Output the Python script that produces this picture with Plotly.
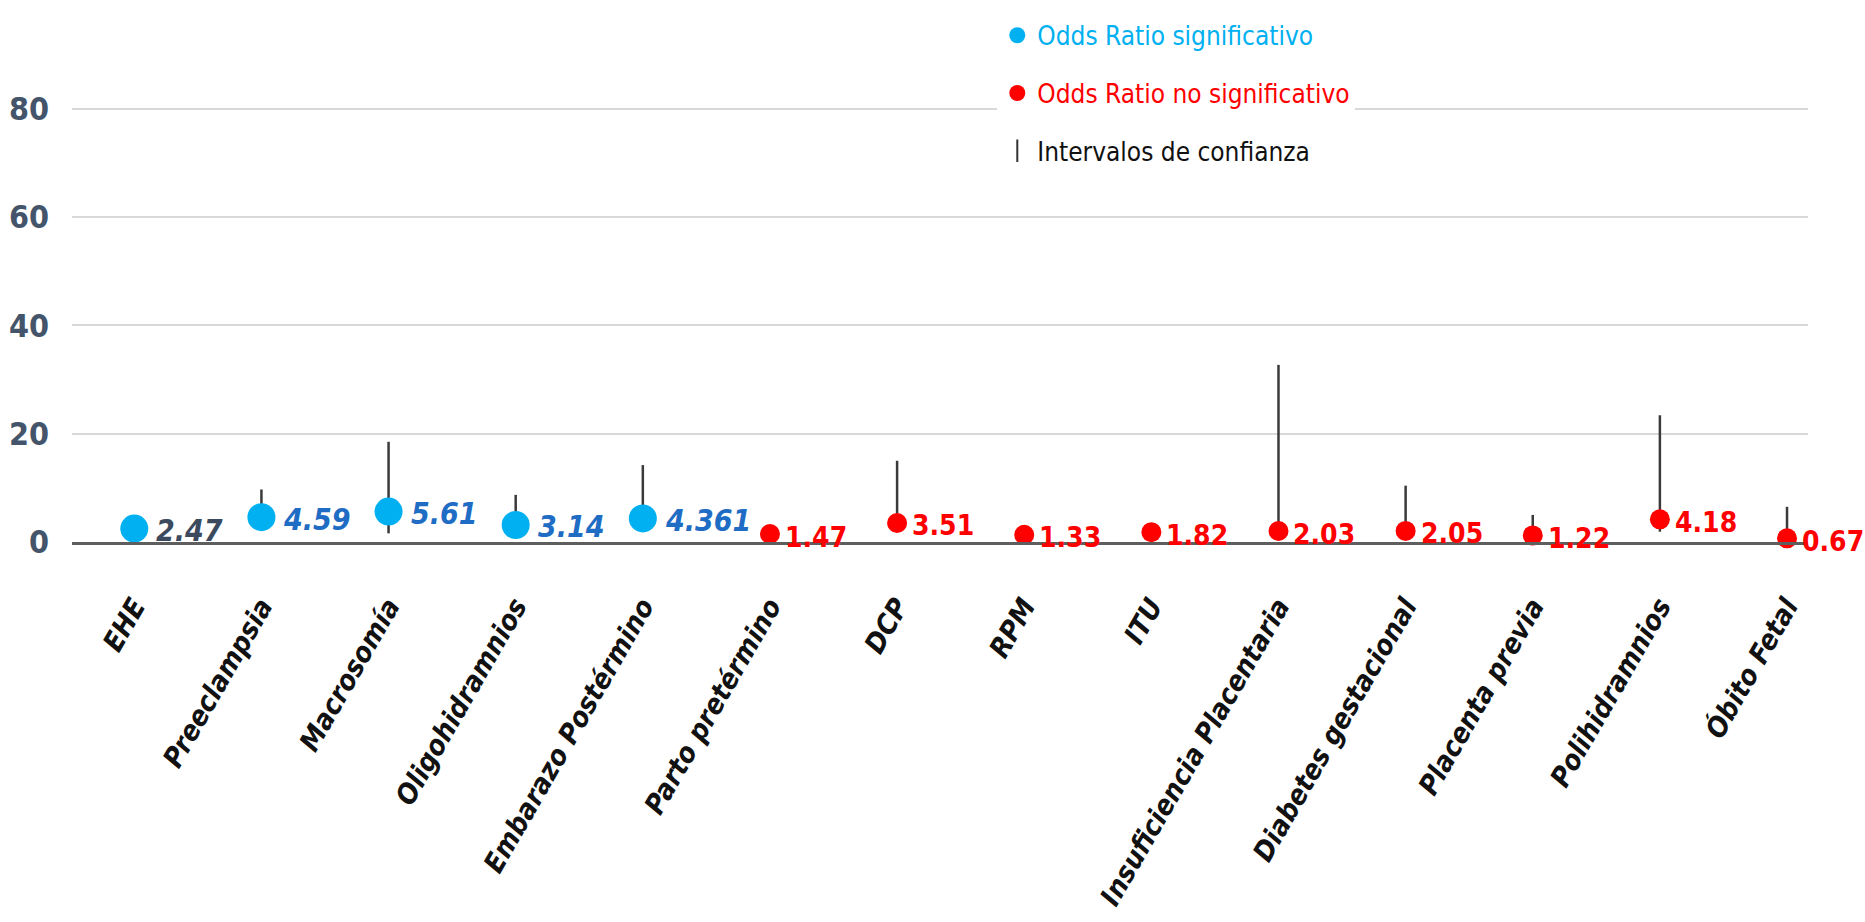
import plotly.graph_objects as go

# Factores de riesgo evaluados
categorias = [
    "EHE", "Preeclampsia", "Macrosomía", "Oligohidramnios", "Embarazo Postérmino",
    "Parto pretérmino", "DCP", "RPM", "ITU", "Insuficiencia Placentaria",
    "Diabetes gestacional", "Placenta previa", "Polihidramnios", "Óbito Fetal",
]
# Odds ratio de cada factor
odds_ratio = [2.47, 4.59, 5.61, 3.14, 4.361, 1.47, 3.51, 1.33, 1.82, 2.03, 2.05, 1.22, 4.18, 0.67]
# Límites del intervalo de confianza
ic_inferior = [1.6, 2.2, 1.6, 1.3, 2.5, 0.7, 1.9, 0.6, 0.9, 0.8, 0.9, 0.3, 1.9, 0.2]
ic_superior = [3.8, 9.7, 18.5, 8.7, 14.2, 3.0, 15.0, 2.9, 3.4, 32.7, 10.4, 5.0, 23.4, 6.5]
# True = odds ratio significativo
significativo = [True] * 5 + [False] * 9

ticks_y = [0, 20, 40, 60, 80]

AZUL = "#00B0F0"
ROJO = "#FF0000"
FUENTE = "DejaVu Sans Condensed, Lato, sans-serif"

fig = go.Figure()

# Intervalos de confianza como segmentos verticales
ic_x, ic_y = [], []
for c, lo, hi in zip(categorias, ic_inferior, ic_superior):
    ic_x += [c, c, None]
    ic_y += [lo, hi, None]
fig.add_trace(go.Scatter(
    x=ic_x, y=ic_y, mode="lines", line=dict(color="#3A3A3A", width=2.5),
    showlegend=False, hoverinfo="skip", cliponaxis=False,
))

sig_x = [c for c, s in zip(categorias, significativo) if s]
sig_y = [v for v, s in zip(odds_ratio, significativo) if s]
nos_x = [c for c, s in zip(categorias, significativo) if not s]
nos_y = [v for v, s in zip(odds_ratio, significativo) if not s]

fig.add_trace(go.Scatter(
    x=sig_x, y=sig_y, mode="markers", cliponaxis=False,
    marker=dict(color=AZUL, size=28, line=dict(width=0)),
    name=f"<span style='color:{AZUL}'>Odds Ratio significativo</span>",
    legendgroup="a",
))
fig.add_trace(go.Scatter(
    x=nos_x, y=nos_y, mode="markers", cliponaxis=False,
    marker=dict(color=ROJO, size=20, line=dict(width=0)),
    name=f"<span style='color:{ROJO}'>Odds Ratio no significativo</span>",
    legendgroup="b",
))
fig.add_trace(go.Scatter(
    x=[None], y=[None], mode="markers",
    marker=dict(symbol="line-ns", size=16, line=dict(color="#333333", width=2)),
    name="<span style='color:#111111'>Intervalos de confianza</span>",
    legendgroup="c",
))

# Etiquetas de valor junto a cada punto
for i, (c, v, s) in enumerate(zip(categorias, odds_ratio, significativo)):
    if s:
        color = "#3B4A5E" if i == 0 else "#1F6CC4"
        fig.add_annotation(
            x=c, y=v, text=str(v), showarrow=False,
            xanchor="left", yanchor="middle", xshift=20, yshift=-2,
            font=dict(family=FUENTE, size=30, color=color,
                      weight="bold", style="italic"),
        )
    else:
        fig.add_annotation(
            x=c, y=v, text=str(v), showarrow=False,
            xanchor="left", yanchor="middle", xshift=13, yshift=-3,
            font=dict(family=FUENTE, size=28, color=ROJO, weight="bold"),
        )

fig.update_layout(
    width=1865, height=922,
    margin=dict(l=72, r=57, t=106, b=380, autoexpand=False),
    paper_bgcolor="white", plot_bgcolor="white",
    showlegend=True,
    legend=dict(
        x=0.533, y=1.216, xanchor="left", yanchor="top",
        bgcolor="white", font=dict(family=FUENTE, size=26),
        tracegroupgap=21, itemsizing="trace",
    ),
    xaxis=dict(
        type="category", categoryorder="array", categoryarray=categorias,
        range=[-0.49, 13.165], showgrid=False, zeroline=False,
        showline=True, linecolor="#5E5E5E", linewidth=3,
        tickangle=-60, ticks="", ticklabelstandoff=34, automargin=False,
        tickfont=dict(family=FUENTE, size=28, color="#111111",
                      weight="bold", style="italic"),
    ),
    yaxis=dict(
        range=[0, 80.5], tickvals=ticks_y, showgrid=True,
        gridcolor="#D9D9D9", gridwidth=2, zeroline=False, showline=False,
        ticks="", ticklabelstandoff=22, automargin=False,
        tickfont=dict(family=FUENTE, size=32, color="#44546A", weight="bold"),
    ),
)

fig.write_html("out.html")
